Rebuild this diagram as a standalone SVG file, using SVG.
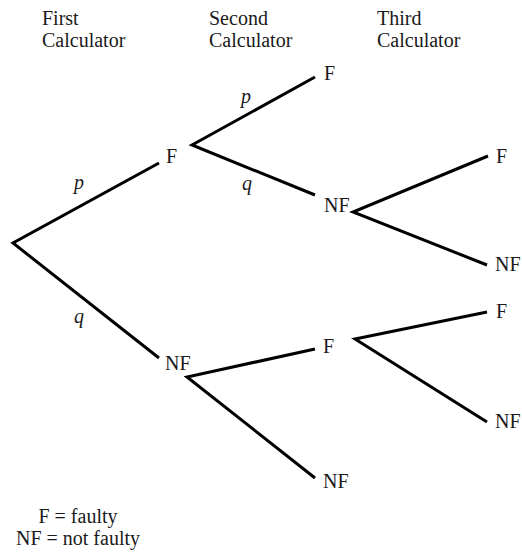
<svg xmlns="http://www.w3.org/2000/svg" width="522" height="552" viewBox="0 0 522 552">
<style>
text { font-family: 'Liberation Serif', 'DejaVu Serif', serif; font-size: 20px; fill: #1a1a1a; }
.prob { font-style: italic; }
.edge { stroke: #000; stroke-width: 3; fill: none; stroke-linecap: butt; stroke-linejoin: miter; }
.mid { text-anchor: middle; }
</style>
<rect width="522" height="552" fill="#fff"/>
<g id="headers" font-family="Liberation Serif, serif">
  <text x="42" y="25">First</text>
  <text x="42" y="47">Calculator</text>
  <text x="209" y="25">Second</text>
  <text x="209" y="47">Calculator</text>
  <text x="377" y="25">Third</text>
  <text x="377" y="47">Calculator</text>
</g>
<g id="connectors">
  <polyline class="edge" points="159,163 13,243 159,358"/>
  <polyline class="edge" points="315,77 192,145 315,195"/>
  <polyline class="edge" points="315,349 187,377 315,478"/>
  <polyline class="edge" points="488,156 353,212 487,265"/>
  <polyline class="edge" points="487,312 355,339 487,422"/>
</g>
<g id="edge-labels">
  <text class="prob" x="74" y="189">p</text>
  <text class="prob" x="74" y="323">q</text>
  <text class="prob" x="241" y="103">p</text>
  <text class="prob" x="242" y="190">q</text>
</g>
<g id="n1-F"><text x="166" y="163">F</text></g>
<g id="n1-NF"><text x="165" y="370">NF</text></g>
<g id="n2-FF"><text x="324" y="80">F</text></g>
<g id="n2-FNF"><text x="324" y="212">NF</text></g>
<g id="n2-NFF"><text x="323" y="353">F</text></g>
<g id="n2-NFNF"><text x="323" y="488">NF</text></g>
<g id="n3-FNFF"><text x="496" y="163">F</text></g>
<g id="n3-FNFNF"><text x="495" y="271">NF</text></g>
<g id="n3-NFFF"><text x="496" y="318">F</text></g>
<g id="n3-NFFNF"><text x="495" y="428">NF</text></g>
<g id="legend">
  <text class="mid" x="78" y="523">F = faulty</text>
  <text class="mid" x="78" y="545">NF = not faulty</text>
</g>
</svg>
